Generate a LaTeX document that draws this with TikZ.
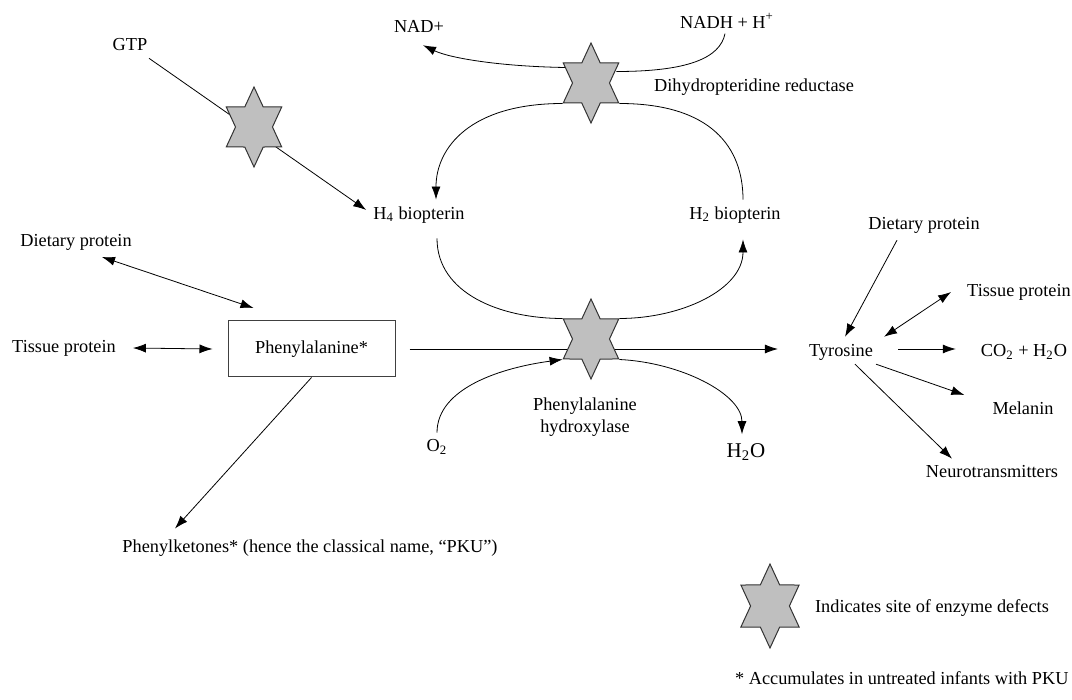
\documentclass[tikz,border=0pt]{standalone}
\usepackage{fontspec}
\setmainfont{Liberation Serif}
\usetikzlibrary{shapes.geometric,arrows.meta,calc,backgrounds}
\tikzset{
  enzyme/.style={star, star points=6, star point ratio=1.732, draw=black!80, fill=black!25,
    minimum size=40pt, inner sep=0pt, xscale=0.8, transform shape},
  pathbox/.style={draw=black!75, minimum width=83.5pt, minimum height=28pt},
}
\begin{document}
\begin{tikzpicture}[x=0.5pt, y=-0.5pt, line width=0.5pt, >={Latex[length=6.5pt,width=4.5pt]},
  font=\fontsize{9.15}{11}\selectfont]
\useasboundingbox (0,0) rectangle (1072,700);
% enzyme sites
\node[enzyme] (gtpch) at (254,127) {};
\node[enzyme] (dhpr) at (591,83) {};
\node[enzyme] (pah) at (591,339) {};
\node[enzyme, minimum size=42pt] (key) at (770,606) {};
% compounds and labels
\node (gtp) at (130,45) {GTP};
\node (nad) at (419,26) {NAD+};
\node (nadh) at (727,21) {NADH + H\textsuperscript{+}};
\node (dhprlab) at (754,87) {Dihydropteridine reductase};
\node (h4) at (419,215) {H\textsubscript{4} biopterin};
\node (h2) at (735,215) {H\textsubscript{2} biopterin};
\node (dietl) at (76,242) {Dietary protein};
\node (tissuel) at (64,348) {Tissue protein};
\node[pathbox] (phe) at (311.5,349) {Phenylalanine*};
\node (pku) at (310,548) {Phenylketones* (hence the classical name, “PKU”)};
\node (o2) at (437,447) {O\textsubscript{2}};
\node[font=\fontsize{10.5}{12}\selectfont] (h2o) at (746,452) {H\textsubscript{2}O};
\node[align=center] (pahlab) at (585,417) {Phenylalanine\\hydroxylase};
\node (tyr) at (841,352) {Tyrosine};
\node (dietr) at (924,225) {Dietary protein};
\node (tissuer) at (1019,292) {Tissue protein};
\node (co2) at (1024,352) {CO\textsubscript{2} + H\textsubscript{2}O};
\node (melanin) at (1023,408) {Melanin};
\node (neuro) at (992,472) {Neurotransmitters};
\node (keylab) at (932,608) {Indicates site of enzyme defects};
\node[anchor=east, inner sep=1pt] (note) at (1071,678) {* Accumulates in untreated infants with PKU};
% reactions
\begin{scope}[on background layer]
\draw[->] (gtp) -- ($(h4.west)+(0,-5)$);
\draw[->] ($(dhpr.outer point 2)+(3,5)$) .. controls +(-65,-1) and +(27,13) .. ($(nad.south)+(4,6)$);
\draw ($(nadh.south)+(-2,-2)$) .. controls +(-5,25) and +(70,0) .. ($(dhpr.outer point 6)+(-3,9)$);
\draw[->] (dhpr.outer point 3) .. controls +(-92,0) and +(0,-52) .. ($(h4.north)+(17,0)$);
\draw ($(h2.north)+(8,0)$) .. controls +(0,-52) and +(92,0) .. (dhpr.outer point 5);
\draw ($(h4.south)+(18,8)$) .. controls +(0,55) and +(-62,0) .. (pah.outer point 2);
\draw[->] (pah.outer point 6) .. controls +(62,0) and +(0,50) .. ($(h2.south)+(8,9)$);
\draw[->] (o2.north) .. controls +(0,-45) and +(-60,8) .. (pah.outer point 3);
\draw[->] (pah.outer point 5) .. controls +(62,3) and +(0,-40) .. ($(h2o.north)+(-4,-2)$);
\draw[<->] ($(dietl)+(26,15)$) -- ($(phe)+(-58,-41)$);
\draw[<->] ($(tissuel.east)+(10,0)$) -- ($(phe.west)+(-15,0)$);
\draw[->] ($(phe.east)+(14,0)$) -- ($(tyr.west)+(-24,-3)$);
\draw[->] (phe.south) -- ($(pku.north)+(-135,-4)$);
\draw[->] ($(dietr.south)+(-27,0)$) -- ($(tyr.north)+(4,0)$);
\draw[<->] ($(tyr.north east)+(4,0)$) -- ($(tissuer.west)+(-9,0)$);
\draw[->] ($(tyr.east)+(18,-3)$) -- ($(co2.west)+(-18,-3)$);
\draw[->] ($(tyr.south east)+(-4,-3)$) -- ($(melanin.west)+(-21,-13)$);
\draw[->] ($(tyr.south)+(14,-3)$) -- ($(neuro.north)+(-40,0)$);
\end{scope}
\end{tikzpicture}
\end{document}
